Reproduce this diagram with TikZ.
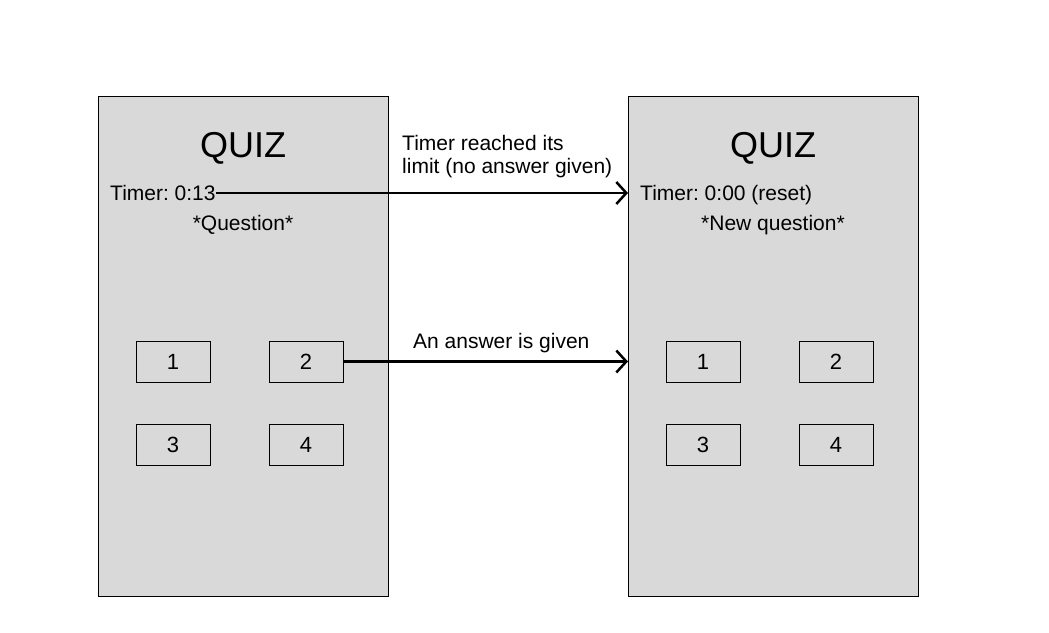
\documentclass[tikz,border=0pt]{standalone}
\usepackage{fontspec}
\setmainfont{Liberation Sans}
\usetikzlibrary{arrows.meta}
\definecolor{panel}{HTML}{D9D9D9}
\frenchspacing
\begin{document}
\begin{tikzpicture}[x=1pt,y=-1pt,
  frame/.style={draw=black,line width=1pt,fill=panel,minimum width=290pt,minimum height=500pt,inner sep=0,anchor=north west},
  btn/.style={draw=black,line width=1pt,minimum width=74pt,minimum height=41pt,inner sep=0,font=\fontsize{22}{24}\selectfont},
  title/.style={inner sep=0,anchor=base,font=\fontsize{36}{40}\selectfont},
  txt/.style={inner sep=0,font=\fontsize{21}{24}\selectfont},
  conn/.style={line width=2.5pt,-{Straight Barb[length=10pt,width=22pt,line width=2.5pt]}}
]
\useasboundingbox (0,0) rectangle (1049,632);
\fill[white] (0,0) rectangle (1049,632);
% frames
\node[frame] (f1) at (98,96) {};
\node[frame] (f2) at (628,96) {};
% titles
\node[title] (q1) at (243,157) {QUIZ};
\node[title] (q2) at (773,157) {QUIZ};
% timers
\node[txt,anchor=base west,text height=14pt,text depth=0pt] (t1) at (110,200) {Timer: 0:13};
\node[txt,anchor=base west] (t2) at (640,200) {Timer: 0:00 (reset)};
\node[txt,anchor=base] (qq1) at (243,230) {*Question*};
\node[txt,anchor=base] (qq2) at (773,230) {*New question*};
% buttons
\node[btn] (a1) at (173,361.5) {1};
\node[btn] (a2) at (306,361.5) {2};
\node[btn] (a3) at (173,444.5) {3};
\node[btn] (a4) at (306,444.5) {4};
\node[btn] (b1) at (703,361.5) {1};
\node[btn] (b2) at (836,361.5) {2};
\node[btn] (b3) at (703,444.5) {3};
\node[btn] (b4) at (836,444.5) {4};
% labels
\node[txt,anchor=base west] (l1) at (402,150) {Timer reached its};
\node[txt,anchor=base west] (l1b) at (402,173) {limit (no answer given)};
\node[txt,anchor=base west] (l2) at (413,348) {An answer is given};
% connectors
\draw[conn] (t1.east) -- (f2.west |- t1.east);
\draw[conn] (a2.east) -- (a2.east -| f2.west);
\end{tikzpicture}
\end{document}
